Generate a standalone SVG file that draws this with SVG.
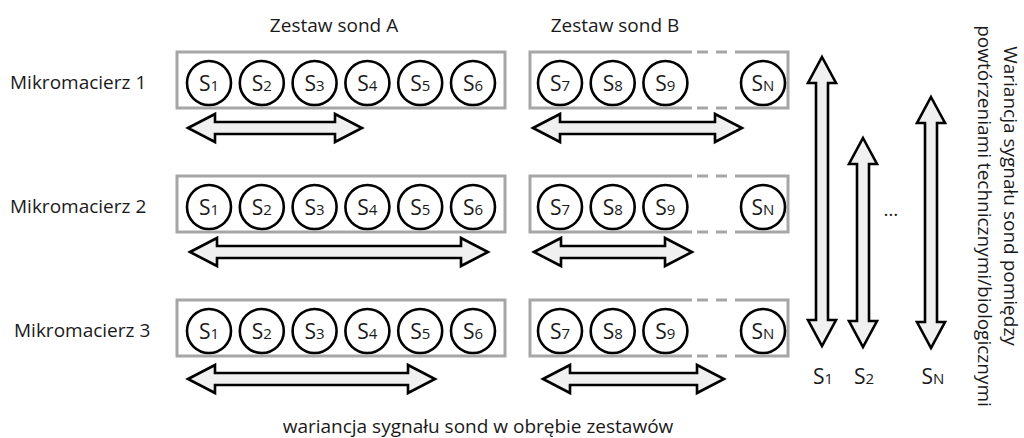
<svg xmlns="http://www.w3.org/2000/svg" width="1024" height="438" viewBox="0 0 1024 438">
<style>
.t{font-family:"Open Sans","Noto Sans",sans-serif;font-size:19px;fill:#1a1a1a}
.s{font-family:"Open Sans","Noto Sans",sans-serif;font-size:21px;fill:#1a1a1a;text-anchor:middle}
.sub{font-size:15px}
.box{fill:#fff;stroke:#a6a6a6;stroke-width:3}
.boxl{fill:none;stroke:#a6a6a6;stroke-width:3}
.dash{fill:none;stroke:#a6a6a6;stroke-width:3;stroke-dasharray:11 8}
.c{fill:#fff;stroke:#000;stroke-width:2.6}
.arr{fill:#f0f0f0;stroke:#000;stroke-width:2.6;stroke-linejoin:miter}
</style>
<rect width="1024" height="438" fill="#fff"/>
<g id="headers">
<text class="t" x="334" y="32" text-anchor="middle">Zestaw sond A</text>
<text class="t" x="615" y="32" text-anchor="middle">Zestaw sond B</text>
</g>
<g id="row1">
<text class="t" x="10" y="89">Mikromacierz 1</text>
<rect class="box" x="177" y="52" width="328" height="56"/>
<circle class="c" cx="209" cy="83" r="22"/><text class="s" x="209" y="90.5">S<tspan class="sub">1</tspan></text>
<circle class="c" cx="261.8" cy="83" r="22"/><text class="s" x="261.8" y="90.5">S<tspan class="sub">2</tspan></text>
<circle class="c" cx="314.6" cy="83" r="22"/><text class="s" x="314.6" y="90.5">S<tspan class="sub">3</tspan></text>
<circle class="c" cx="367.4" cy="83" r="22"/><text class="s" x="367.4" y="90.5">S<tspan class="sub">4</tspan></text>
<circle class="c" cx="420.2" cy="83" r="22"/><text class="s" x="420.2" y="90.5">S<tspan class="sub">5</tspan></text>
<circle class="c" cx="473" cy="83" r="22"/><text class="s" x="473" y="90.5">S<tspan class="sub">6</tspan></text>
<path class="boxl" d="M692,52 H530 V108 H692 M737,52 H788 V108 H737"/>
<path class="dash" d="M697,52 H737 M697,108 H737"/>
<circle class="c" cx="560" cy="83" r="22"/><text class="s" x="560" y="90.5">S<tspan class="sub">7</tspan></text>
<circle class="c" cx="612.7" cy="83" r="22"/><text class="s" x="612.7" y="90.5">S<tspan class="sub">8</tspan></text>
<circle class="c" cx="665.4" cy="83" r="22"/><text class="s" x="665.4" y="90.5">S<tspan class="sub">9</tspan></text>
<circle class="c" cx="763" cy="83" r="22"/><text class="s" x="763" y="90.5">S<tspan class="sub">N</tspan></text>
</g>
<g id="row2">
<text class="t" x="10" y="213">Mikromacierz 2</text>
<rect class="box" x="177" y="176" width="328" height="56"/>
<circle class="c" cx="209" cy="207" r="22"/><text class="s" x="209" y="214.5">S<tspan class="sub">1</tspan></text>
<circle class="c" cx="261.8" cy="207" r="22"/><text class="s" x="261.8" y="214.5">S<tspan class="sub">2</tspan></text>
<circle class="c" cx="314.6" cy="207" r="22"/><text class="s" x="314.6" y="214.5">S<tspan class="sub">3</tspan></text>
<circle class="c" cx="367.4" cy="207" r="22"/><text class="s" x="367.4" y="214.5">S<tspan class="sub">4</tspan></text>
<circle class="c" cx="420.2" cy="207" r="22"/><text class="s" x="420.2" y="214.5">S<tspan class="sub">5</tspan></text>
<circle class="c" cx="473" cy="207" r="22"/><text class="s" x="473" y="214.5">S<tspan class="sub">6</tspan></text>
<path class="boxl" d="M692,176 H530 V232 H692 M737,176 H788 V232 H737"/>
<path class="dash" d="M697,176 H737 M697,232 H737"/>
<circle class="c" cx="560" cy="207" r="22"/><text class="s" x="560" y="214.5">S<tspan class="sub">7</tspan></text>
<circle class="c" cx="612.7" cy="207" r="22"/><text class="s" x="612.7" y="214.5">S<tspan class="sub">8</tspan></text>
<circle class="c" cx="665.4" cy="207" r="22"/><text class="s" x="665.4" y="214.5">S<tspan class="sub">9</tspan></text>
<circle class="c" cx="763" cy="207" r="22"/><text class="s" x="763" y="214.5">S<tspan class="sub">N</tspan></text>
</g>
<g id="row3">
<text class="t" x="14" y="337">Mikromacierz 3</text>
<rect class="box" x="177" y="300" width="328" height="56"/>
<circle class="c" cx="209" cy="331" r="22"/><text class="s" x="209" y="338.5">S<tspan class="sub">1</tspan></text>
<circle class="c" cx="261.8" cy="331" r="22"/><text class="s" x="261.8" y="338.5">S<tspan class="sub">2</tspan></text>
<circle class="c" cx="314.6" cy="331" r="22"/><text class="s" x="314.6" y="338.5">S<tspan class="sub">3</tspan></text>
<circle class="c" cx="367.4" cy="331" r="22"/><text class="s" x="367.4" y="338.5">S<tspan class="sub">4</tspan></text>
<circle class="c" cx="420.2" cy="331" r="22"/><text class="s" x="420.2" y="338.5">S<tspan class="sub">5</tspan></text>
<circle class="c" cx="473" cy="331" r="22"/><text class="s" x="473" y="338.5">S<tspan class="sub">6</tspan></text>
<path class="boxl" d="M692,300 H530 V356 H692 M737,300 H788 V356 H737"/>
<path class="dash" d="M697,300 H737 M697,356 H737"/>
<circle class="c" cx="560" cy="331" r="22"/><text class="s" x="560" y="338.5">S<tspan class="sub">7</tspan></text>
<circle class="c" cx="612.7" cy="331" r="22"/><text class="s" x="612.7" y="338.5">S<tspan class="sub">8</tspan></text>
<circle class="c" cx="665.4" cy="331" r="22"/><text class="s" x="665.4" y="338.5">S<tspan class="sub">9</tspan></text>
<circle class="c" cx="763" cy="331" r="22"/><text class="s" x="763" y="338.5">S<tspan class="sub">N</tspan></text>
</g>
<g id="connectors">
<path class="arr" d="M188,128 L215,114 V122 H335 V114 L362,128 L335,142 V134 H215 V142 Z"/>
<path class="arr" d="M533,128 L560,114 V122 H715 V114 L742,128 L715,142 V134 H560 V142 Z"/>
<path class="arr" d="M190,252 L217,238 V246 H461 V238 L488,252 L461,266 V258 H217 V266 Z"/>
<path class="arr" d="M534,252 L561,238 V246 H665 V238 L692,252 L665,266 V258 H561 V266 Z"/>
<path class="arr" d="M188,379 L215,365 V373 H408 V365 L435,379 L408,393 V385 H215 V393 Z"/>
<path class="arr" d="M543,379 L570,365 V373 H697 V365 L724,379 L697,393 V385 H570 V393 Z"/>
<path class="arr" d="M822,57 L836,83 H828 V320 H836 L822,346 L808,320 H816 V83 H808 Z"/>
<path class="arr" d="M863,138 L877,164 H869 V321 H877 L863,347 L849,321 H857 V164 H849 Z"/>
<path class="arr" d="M931,97 L945,123 H937 V322 H945 L931,348 L917,322 H925 V123 H917 Z"/>
</g>
<g id="labels">
<text class="t" x="891" y="216" text-anchor="middle" font-size="14">…</text>
<text class="s" x="823" y="384" fill="#333">S<tspan class="sub">1</tspan></text>
<text class="s" x="864" y="384" fill="#333">S<tspan class="sub">2</tspan></text>
<text class="s" x="933" y="384" fill="#333">S<tspan class="sub">N</tspan></text>
<text class="t" x="478" y="433" text-anchor="middle">wariancja sygnału sond w obrębie zestawów</text>
<text class="t" text-anchor="middle" transform="translate(1004,196) rotate(90)">Wariancja sygnału sond pomiędzy</text>
<text class="t" text-anchor="middle" transform="translate(978,216) rotate(90)">powtórzeniami technicznymi/biologicznymi</text>
</g>
</svg>
